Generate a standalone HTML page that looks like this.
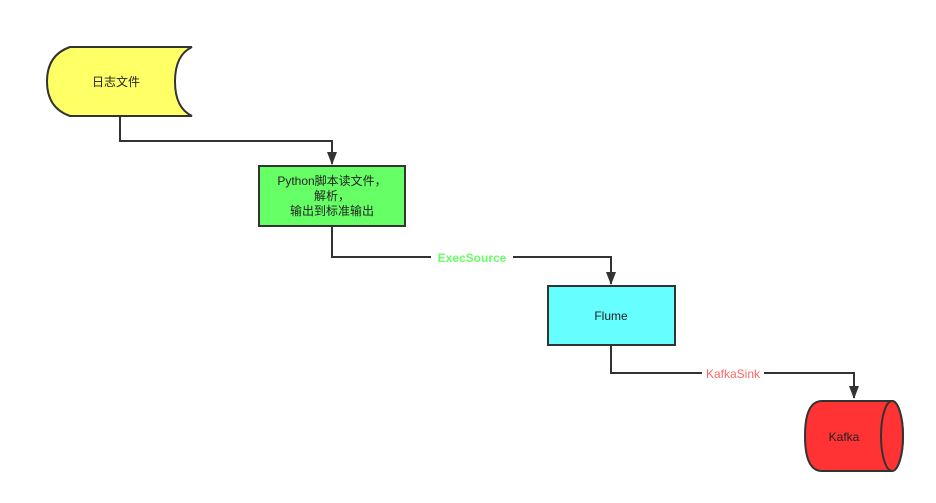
<!DOCTYPE html>
<html><head><meta charset="utf-8"><style>
html,body{margin:0;padding:0;background:#fff;width:936px;height:503px;overflow:hidden}
svg{display:block}
text{font-family:"Liberation Sans","Noto Sans CJK SC",sans-serif;font-size:12px;fill:#222}
</style></head><body>
<svg width="936" height="503" viewBox="0 0 936 503" xmlns="http://www.w3.org/2000/svg">
<defs><marker id="a" markerWidth="10" markerHeight="10" refX="5" refY="9" orient="auto" markerUnits="userSpaceOnUse">
<path d="M0,0 L10,0 L5,11 Z" fill="#333" transform="translate(0,-1)"/></marker></defs>
<!-- yellow stored data -->
<path d="M70,47 L192,47 Q175,55 175,81.5 Q175,108 192,116 L70,116 Q47,108 47,81.5 Q47,55 70,47 Z" fill="#ffff66" stroke="#333" stroke-width="2"/>
<text x="116" y="86" text-anchor="middle">日志文件</text>
<!-- connectors -->
<path d="M120,116 V141 H332 V164" fill="none" stroke="#333" stroke-width="2"/>
<path d="M327,152 L337,152 L332,165 Z" fill="#333"/>
<path d="M332,226 V257 H611 V284" fill="none" stroke="#333" stroke-width="2"/>
<path d="M606,272 L616,272 L611,285 Z" fill="#333"/>
<path d="M611,345 V373 H854 V398" fill="none" stroke="#333" stroke-width="2"/>
<path d="M849,386 L859,386 L854,399 Z" fill="#333"/>
<rect x="431" y="249" width="82" height="16" fill="#fff"/>
<text x="472" y="262" text-anchor="middle" style="fill:#66ff66;font-weight:bold;font-size:12px">ExecSource</text>
<rect x="702" y="365" width="62" height="16" fill="#fff"/>
<text x="733" y="378" text-anchor="middle" style="fill:#ff6666">KafkaSink</text>
<!-- green box -->
<rect x="259" y="166" width="146" height="60" fill="#66ff66" stroke="#333" stroke-width="2"/>
<text x="332" y="185" text-anchor="middle">Python脚本读文件，</text>
<text x="332" y="200" text-anchor="middle">解析，</text>
<text x="332" y="215" text-anchor="middle">输出到标准输出</text>
<!-- flume -->
<rect x="548" y="286" width="127" height="59" fill="#66ffff" stroke="#333" stroke-width="2"/>
<text x="611" y="320" text-anchor="middle">Flume</text>
<!-- kafka cylinder -->
<path d="M822,401 L892,401 A11,35 0 0 1 892,471 L822,471 Q805,471 805,436 Q805,401 822,401 Z" fill="#ff3333" stroke="#333" stroke-width="2"/>
<ellipse cx="892" cy="436" rx="11" ry="35" fill="#ff3333" stroke="#333" stroke-width="2"/>
<text x="844" y="441" text-anchor="middle">Kafka</text>
</svg>
</body></html>
